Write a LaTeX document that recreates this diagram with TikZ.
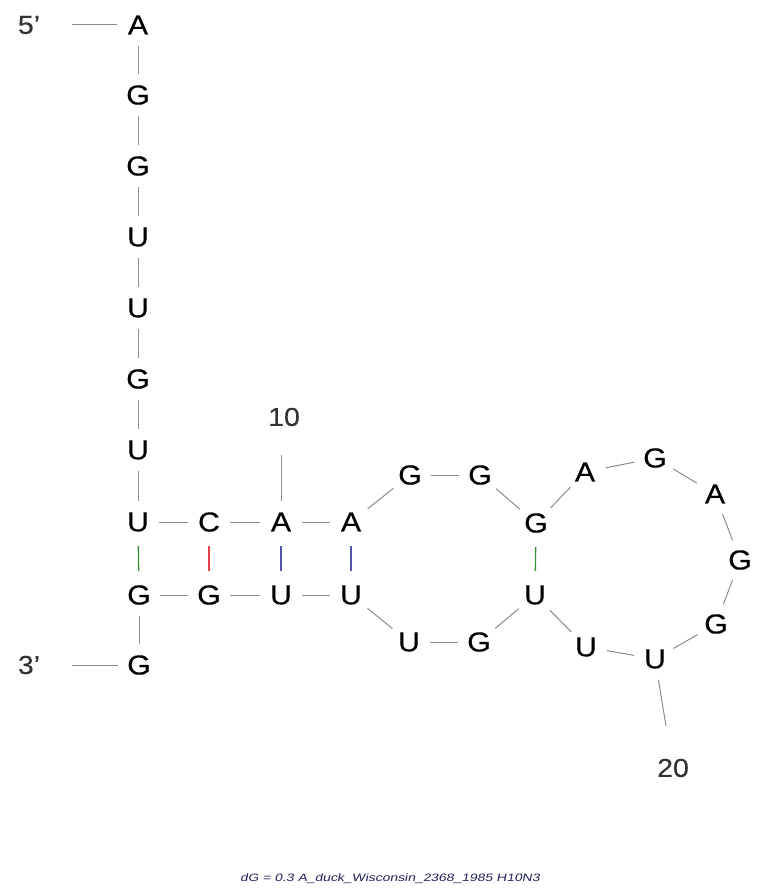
\documentclass[tikz,border=0pt]{standalone}
\usepackage{fontspec}
\setmainfont{Liberation Sans}
\newfontfamily\ntfont[FakeStretch=1.1,FakeBold=0.4]{Liberation Sans}
\newfontfamily\labfont[FakeStretch=1.1,FakeBold=0.2]{Liberation Sans}
\newfontfamily\capfont[FakeStretch=1.3,FakeSlant=0.2]{Liberation Sans}
\definecolor{bondgray}{HTML}{8C8C8C}
\definecolor{pairgreen}{HTML}{3A8F3A}
\definecolor{pairred}{HTML}{E8404A}
\definecolor{pairblue}{HTML}{5555B0}
\definecolor{labgray}{HTML}{333333}
\definecolor{capnavy}{HTML}{22225A}
\begin{document}
\begin{tikzpicture}[x=1pt,y=-1pt,
  nt/.style={circle, minimum size=42pt, inner sep=0pt, font=\ntfont\fontsize{27.5}{27.5}\selectfont},
  lab/.style={inner sep=0pt, text=labgray, font=\labfont\fontsize{26}{26}\selectfont},
  bond/.style={draw=bondgray, line width=1pt},
  gupair/.style={draw=pairgreen, line width=1.3pt, shorten >=3pt, shorten <=3pt},
  gcpair/.style={draw=pairred, line width=1.3pt, shorten >=3pt, shorten <=3pt},
  aupair/.style={draw=pairblue, line width=1.3pt, shorten >=3pt, shorten <=3pt}]
\useasboundingbox (0,0) rectangle (760,893);
\fill[white] (0,0) rectangle (760,893);
% nucleotides
\node[nt] (n1) at (138,25) {A};
\node[nt] (n2) at (138,95) {G};
\node[nt] (n3) at (138,166) {G};
\node[nt] (n4) at (138,237) {U};
\node[nt] (n5) at (138,308) {U};
\node[nt] (n6) at (138,379) {G};
\node[nt] (n7) at (138,450) {U};
\node[nt] (n8) at (138,522) {U};
\node[nt] (n9) at (209,522) {C};
\node[nt] (n10) at (281,522) {A};
\node[nt] (n11) at (351,522) {A};
\node[nt] (n12) at (410,475) {G};
\node[nt] (n13) at (480,475) {G};
\node[nt] (n14) at (536,523) {G};
\node[nt] (n15) at (585,472) {A};
\node[nt] (n16) at (655,458) {G};
\node[nt] (n17) at (715,494) {A};
\node[nt] (n18) at (740,560) {G};
\node[nt] (n19) at (716,624) {G};
\node[nt] (n20) at (655,659) {U};
\node[nt] (n21) at (586,647) {U};
\node[nt] (n22) at (535,595) {U};
\node[nt] (n23) at (479,642) {G};
\node[nt] (n24) at (409,642) {U};
\node[nt] (n25) at (351,595) {U};
\node[nt] (n26) at (281,595) {U};
\node[nt] (n27) at (209,595) {G};
\node[nt] (n28) at (139,595) {G};
\node[nt] (n29) at (139,665) {G};
% end labels
\node[lab] (five) at (29,25) {5’};
\node[lab] (three) at (29,665) {3’};
\node[lab] (ten) at (284,417) {10};
\node[lab] (twenty) at (673,768) {20};
\coordinate (c5) at (72,25);
\coordinate (c3) at (72,665);
\coordinate (c10) at (281,455);
\coordinate (c20) at (666,726);
% backbone
\foreach \a/\b in {n1/n2,n2/n3,n3/n4,n4/n5,n5/n6,n6/n7,n7/n8,n8/n9,n9/n10,n10/n11,n11/n12,n12/n13,n13/n14,n14/n15,n15/n16,n16/n17,n17/n18,n18/n19,n19/n20,n20/n21,n21/n22,n22/n23,n23/n24,n24/n25,n25/n26,n26/n27,n27/n28,n28/n29}
  \draw[bond] (\a) -- (\b);
\draw[bond] (c5) -- (n1);
\draw[bond] (c3) -- (n29);
\draw[bond] (n10) -- (c10);
\draw[bond] (n20) -- (c20);
% base pairs
\draw[gupair] (n8) -- (n28);
\draw[gcpair] (n9) -- (n27);
\draw[aupair] (n10) -- (n26);
\draw[aupair] (n11) -- (n25);
\draw[gupair] (n14) -- (n22);
% caption
\node[inner sep=0pt, text=capnavy, font=\capfont\fontsize{10.7}{11}\selectfont] (cap) at (390,879) {dG = 0.3 A\_duck\_Wisconsin\_2368\_1985 H10N3};
\end{tikzpicture}
\end{document}
